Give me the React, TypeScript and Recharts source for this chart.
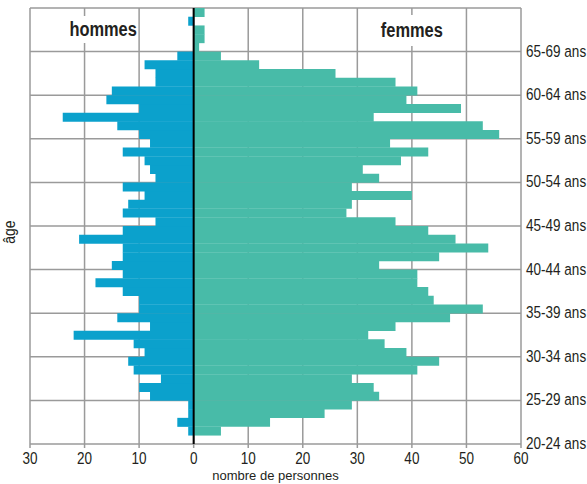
import React from 'react';
import { BarChart, Bar, XAxis, YAxis, CartesianGrid, ReferenceLine } from 'recharts';

// one bar per year of age, bottom to top
const ages = [
    20, 21, 22, 23, 24, 25, 26, 27, 28, 29,
    30, 31, 32, 33, 34, 35, 36, 37, 38, 39,
    40, 41, 42, 43, 44, 45, 46, 47, 48, 49,
    50, 51, 52, 53, 54, 55, 56, 57, 58, 59,
    60, 61, 62, 63, 64, 65, 66, 67, 68, 69,
];
const hommes = [
    0, 1, 3, 1, 1, 8, 10, 6, 11, 12,
    9, 11, 22, 8, 14, 10, 10, 13, 18, 13,
    15, 13, 13, 21, 13, 7, 13, 12, 9, 13,
    7, 8, 9, 13, 8, 10, 14, 24, 10, 16,
    15, 7, 7, 9, 3, 0, 0, 0, 1, 0,
];
const femmes = [
    0, 5, 14, 24, 29, 34, 33, 29, 41, 45,
    39, 35, 32, 37, 47, 53, 44, 43, 41, 41,
    34, 45, 54, 48, 43, 37, 28, 29, 40, 29,
    34, 31, 38, 43, 36, 56, 53, 33, 49, 39,
    41, 37, 26, 12, 5, 1, 2, 2, 0, 2,
];

const bandStarts = [20, 25, 30, 35, 40, 45, 50, 55, 60, 65, 70];
const bandLabels = ['20-24 ans', '25-29 ans', '30-34 ans', '35-39 ans', '40-44 ans', '45-49 ans', '50-54 ans', '55-59 ans', '60-64 ans', '65-69 ans', ''];
const xTicks = [-30, -20, -10, 0, 10, 20, 30, 40, 50, 60];

const data = ages.map((age, i) => ({
    age,
    mid: age + 0.5,
    hommes: -hommes[i],
    femmes: femmes[i],
}));

const FONT = '"Liberation Sans", Arial, sans-serif';
const INK = '#231f20';
const GRID = '#9a9a9a';
const NARROW = 0.82; // the original uses a condensed face

// squeezed tick text to mimic the condensed font
const CondensedTick = (props: any) => {
    const { x, y, payload, tickFormatter, textAnchor, side } = props;
    const label = tickFormatter ? tickFormatter(payload.value, payload.index) : String(payload.value);
    if (!label) return null;
    return (
        <g transform={`translate(${x},${y}) scale(${NARROW},1)`}>
            <text
                x={0}
                y={0}
                dy={side === 'bottom' ? '0.8em' : '0.3em'}
                textAnchor={textAnchor}
                fill={INK}
                fontSize={16.5}
                fontFamily={FONT}
            >
                {label}
            </text>
        </g>
    );
};

export default function App() {
    return (
        <div style={{ position: 'absolute', left: 0, top: 0, width: 587, height: 484, background: '#fff', fontFamily: FONT }}>
            <BarChart
                width={587}
                height={484}
                data={data}
                layout="vertical"
                stackOffset="sign"
                barCategoryGap={0}
                barGap={0}
                margin={{ top: 8, right: 0, bottom: 0, left: 30 }}
            >
                <CartesianGrid stroke={GRID} strokeWidth={1.5} />
                <XAxis
                    type="number"
                    domain={[-30, 60]}
                    ticks={xTicks}
                    tickFormatter={(v: number) => String(Math.abs(v))}
                    height={40}
                    tickSize={4}
                    tickMargin={3}
                    axisLine={false}
                    tickLine={{ stroke: GRID, strokeWidth: 1.5 }}
                    tick={<CondensedTick side="bottom" />}
                    label={{ value: 'nombre de personnes', position: 'insideBottom', offset: 4, fill: INK, fontSize: 13, fontFamily: FONT }}
                />
                <YAxis
                    type="number"
                    dataKey="mid"
                    orientation="right"
                    reversed
                    domain={[20, 70]}
                    ticks={bandStarts}
                    tickFormatter={(v: number) => bandLabels[bandStarts.indexOf(v)]}
                    width={66}
                    tickSize={0}
                    tickMargin={5}
                    axisLine={false}
                    tickLine={false}
                    tick={<CondensedTick side="right" />}
                />
                <Bar dataKey="hommes" stackId="a" fill="#0ba1cc" isAnimationActive={false} />
                <Bar dataKey="femmes" stackId="a" fill="#48bba8" isAnimationActive={false} />
                <ReferenceLine x={0} stroke="#000" strokeWidth={2} />
            </BarChart>

            <div style={{ position: 'absolute', left: 62, top: 16, width: 76, height: 27, background: '#fff', textAlign: 'center', lineHeight: '27px' }}>
                <span style={{ display: 'inline-block', transform: `scaleX(${NARROW})`, fontWeight: 'bold', fontSize: 20, color: INK }}>hommes</span>
            </div>
            <div style={{ position: 'absolute', left: 374, top: 15, width: 76, height: 31, background: '#fff', textAlign: 'center', lineHeight: '31px' }}>
                <span style={{ display: 'inline-block', transform: `scaleX(${NARROW})`, fontWeight: 'bold', fontSize: 20, color: INK }}>femmes</span>
            </div>
            <div style={{ position: 'absolute', left: -10, top: 222, width: 40, height: 20, textAlign: 'center', fontSize: 17, lineHeight: '20px', color: INK, transform: `rotate(-90deg) scaleX(${NARROW})` }}>
                âge
            </div>
        </div>
    );
}
